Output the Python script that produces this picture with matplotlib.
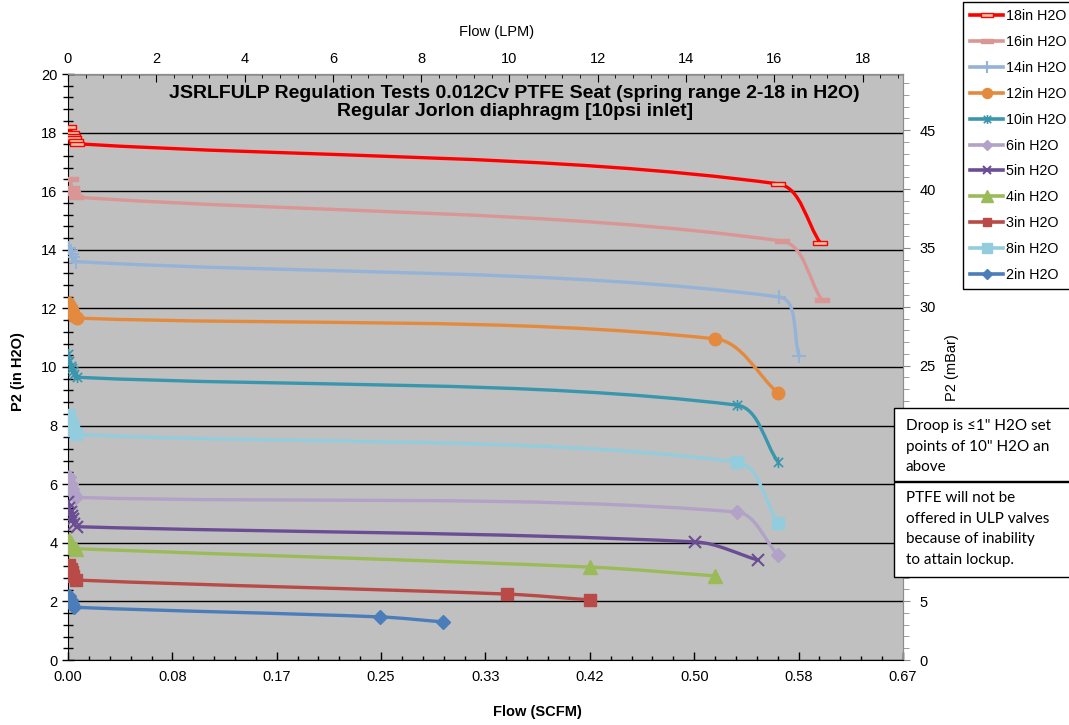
import numpy as np
import matplotlib
matplotlib.use('Agg')
import matplotlib.pyplot as plt
from matplotlib.path import Path
from matplotlib.patches import PathPatch, Rectangle
from matplotlib.lines import Line2D
from matplotlib.ticker import MultipleLocator, AutoMinorLocator, FixedLocator

plt.rcParams['font.family'] = ['Liberation Sans', 'DejaVu Sans']

# flow in SCFM, P2 in inches of water
x18 = [0.001, 0.003, 0.004, 0.005, 0.006, 0.007, 0.568, 0.602]
y18 = [18.2, 18.0, 17.9, 17.8, 17.7, 17.62, 16.25, 14.23]
x16 = [0.002, 0.003, 0.004, 0.006, 0.571, 0.603]
y16 = [16.4, 16.1, 15.95, 15.8, 14.30, 12.29]
x14 = [0.001, 0.002, 0.003, 0.004, 0.006, 0.569, 0.585]
y14 = [14.05, 13.95, 13.85, 13.75, 13.6, 12.39, 10.38]
x12 = [0.0, 0.001, 0.002, 0.003, 0.004, 0.005, 0.007, 0.518, 0.568]
y12 = [12.2, 12.1, 12.0, 11.95, 11.85, 11.75, 11.67, 10.96, 9.11]
x10 = [0.0, 0.001, 0.002, 0.003, 0.004, 0.005, 0.007, 0.535, 0.568]
y10 = [10.45, 10.2, 10.05, 9.95, 9.85, 9.75, 9.65, 8.70, 6.76]
x6 = [0.001, 0.002, 0.003, 0.004, 0.006, 0.535, 0.568]
y6 = [6.25, 6.0, 5.85, 5.7, 5.55, 5.05, 3.58]
x5 = [0.0, 0.001, 0.002, 0.003, 0.004, 0.005, 0.007, 0.502, 0.552]
y5 = [5.4, 5.2, 5.05, 4.9, 4.8, 4.65, 4.55, 4.03, 3.41]
x4 = [0.001, 0.002, 0.004, 0.006, 0.418, 0.518]
y4 = [4.1, 4.0, 3.85, 3.8, 3.17, 2.87]
x3 = [0.001, 0.002, 0.003, 0.004, 0.006, 0.351, 0.418]
y3 = [3.25, 3.1, 3.0, 2.85, 2.73, 2.25, 2.05]
x8 = [0.001, 0.002, 0.003, 0.004, 0.006, 0.535, 0.568]
y8 = [8.35, 8.1, 7.95, 7.85, 7.7, 6.76, 4.68]
x2 = [0.001, 0.002, 0.003, 0.005, 0.250, 0.300]
y2 = [2.2, 2.05, 1.9, 1.8, 1.47, 1.30]

labels = ['18in H2O', '16in H2O', '14in H2O', '12in H2O', '10in H2O', '6in H2O',
          '5in H2O', '4in H2O', '3in H2O', '8in H2O', '2in H2O']

xtick_labels = ['0.00', '0.08', '0.17', '0.25', '0.33', '0.42', '0.50', '0.58', '0.67']
XMAX = 0.668
LPM_PER_SCFM = 28.317
MBAR_PER_INH2O = 2.4884

# marker shapes
dash = Path([(-1, -0.3), (1, -0.3), (1, 0.3), (-1, 0.3), (-1, -0.3)],
            [Path.MOVETO, Path.LINETO, Path.LINETO, Path.LINETO, Path.CLOSEPOLY])
star = Path([(-1, -1), (1, 1), (-1, 1), (1, -1), (0, -1.2), (0, 1.2)],
            [Path.MOVETO, Path.LINETO, Path.MOVETO, Path.LINETO, Path.MOVETO, Path.LINETO])

series = [
    (x18, y18, '#FF0000', dict(marker=dash, ms=10, mfc='#E9C7A6', mec='#FF0000', mew=1.0)),
    (x16, y16, '#D99694', dict(marker=dash, ms=10, mfc='#D99694', mec='#D99694', mew=1.0)),
    (x14, y14, '#95B3D7', dict(marker='+', ms=10, mec='#95B3D7', mew=1.5)),
    (x12, y12, '#E48A3E', dict(marker='o', ms=9, mfc='#E48A3E', mec='#E48A3E')),
    (x10, y10, '#3A96AC', dict(marker=star, ms=8, mfc='none', mec='#3A96AC', mew=1.2)),
    (x6, y6, '#B3A2C7', dict(marker='D', ms=7, mfc='#B3A2C7', mec='#B3A2C7')),
    (x5, y5, '#6B4D93', dict(marker='x', ms=8, mec='#6B4D93', mew=1.5)),
    (x4, y4, '#9BBB59', dict(marker='^', ms=10, mfc='#9BBB59', mec='#9BBB59')),
    (x3, y3, '#B84A47', dict(marker='s', ms=8, mfc='#B84A47', mec='#B84A47')),
    (x8, y8, '#93CDDD', dict(marker='s', ms=9, mfc='#93CDDD', mec='#93CDDD')),
    (x2, y2, '#4A7DBA', dict(marker='D', ms=7, mfc='#4A7DBA', mec='#4A7DBA')),
]


def smooth_path(ax, xs, ys):
    # excel-like smoothed line: cubic bezier between the data points, built in pixel space
    pts = ax.transData.transform(np.column_stack([xs, ys]))
    n = len(pts)
    verts = [pts[0]]
    codes = [Path.MOVETO]
    for i in range(n - 1):
        p0 = pts[i - 1] if i > 0 else pts[i]
        p1 = pts[i]
        p2 = pts[i + 1]
        p3 = pts[i + 2] if i + 2 < n else pts[i + 1]
        d1 = np.hypot(*(p1 - p0))
        d2 = np.hypot(*(p2 - p1))
        d3 = np.hypot(*(p3 - p2))
        c1 = p1 + (p2 - p0) * (d2 / (d1 + d2)) / 3
        c2 = p2 - (p3 - p1) * (d2 / (d2 + d3)) / 3
        verts += [c1, c2, p2]
        codes += [Path.CURVE4] * 3
    verts = ax.transData.inverted().transform(np.array(verts))
    return Path(verts, codes)


fig = plt.figure(figsize=(10.69, 7.25), dpi=100)
ax = fig.add_axes([68 / 1069, 1 - 660 / 725, (903 - 68) / 1069, (660 - 74) / 725])
ax.set_facecolor('#C0C0C0')
ax.set_xlim(0, XMAX)
ax.set_ylim(0, 20)

ax.xaxis.set_major_locator(FixedLocator(np.linspace(0, XMAX, 9)))
ax.set_xticklabels(xtick_labels)
ax.xaxis.set_minor_locator(AutoMinorLocator(5))
ax.yaxis.set_major_locator(MultipleLocator(2))
ax.yaxis.set_minor_locator(AutoMinorLocator(5))
ax.tick_params(axis='x', which='major', direction='in', length=6, width=1, labelsize=10.5, pad=7)
ax.tick_params(axis='x', which='minor', direction='in', length=3, width=1)
ax.tick_params(axis='y', which='major', direction='inout', length=8, width=1, labelsize=10.5)
ax.tick_params(axis='y', which='minor', direction='inout', length=7, width=1)
ax.grid(axis='y', which='major', color='black', lw=1)
ax.set_axisbelow(True)
for s in ['top', 'right']:
    ax.spines[s].set_color('#8C8C8C')
ax.spines['left'].set_color('black')
ax.spines['bottom'].set_color('black')

for xs, ys, col, mk in series:
    ax.add_patch(PathPatch(smooth_path(ax, xs, ys), facecolor='none', edgecolor=col,
                           lw=2.4, capstyle='round', joinstyle='round', zorder=3))
    ax.plot(xs, ys, linestyle='none', zorder=4, **mk)

# top axis in LPM
top = ax.secondary_xaxis('top', functions=(lambda v: v * LPM_PER_SCFM, lambda v: v / LPM_PER_SCFM))
top.xaxis.set_major_locator(MultipleLocator(2))
top.xaxis.set_minor_locator(AutoMinorLocator(5))
top.tick_params(which='major', direction='in', length=6, labelsize=10.5, pad=6)
top.tick_params(which='minor', direction='in', length=3)
top.spines['top'].set_color('#8C8C8C')

# right axis in mBar
right = ax.secondary_yaxis('right', functions=(lambda v: v * MBAR_PER_INH2O, lambda v: v / MBAR_PER_INH2O))
right.yaxis.set_major_locator(MultipleLocator(5))
right.yaxis.set_minor_locator(AutoMinorLocator(5))
right.tick_params(which='major', direction='out', length=5, labelsize=10.5, pad=7, color='#8C8C8C')
right.tick_params(which='minor', direction='out', length=4, color='#8C8C8C')
right.spines['right'].set_color('#8C8C8C')

ax.text(0.535, 0.981, 'JSRLFULP Regulation Tests 0.012Cv PTFE Seat (spring range 2-18 in H2O)\n'
        'Regular Jorlon diaphragm [10psi inlet]', transform=ax.transAxes,
        ha='center', va='top', fontsize=14, fontweight='bold', linespacing=1.1)

fig.text(18 / 1069, 1 - 372 / 725, 'P2 (in H2O)', rotation=90, ha='center', va='center',
         fontsize=10.5, fontweight='bold')
fig.text(537 / 1069, 1 - 712 / 725, 'Flow (SCFM)', ha='center', va='center',
         fontsize=10.5, fontweight='bold')
fig.text(497 / 1069, 1 - 32 / 725, 'Flow (LPM)', ha='center', va='center', fontsize=10.5)
fig.text(952 / 1069, 1 - 368 / 725, 'P2 (mBar)', rotation=90, ha='center', va='center', fontsize=10.5)

handles = [Line2D([], [], color=col, lw=2.6, **mk) for xs, ys, col, mk in series]
leg = fig.legend(handles, labels, loc='upper left', bbox_to_anchor=(963 / 1069, 1 - 2 / 725),
                 fontsize=10.3, frameon=True, fancybox=False, edgecolor='black', framealpha=1,
                 handlelength=2.3, handletextpad=0.2, labelspacing=0.83, borderpad=0.5,
                 borderaxespad=0, markerscale=0.8)
leg.get_frame().set_linewidth(1)

# note boxes
fig.patches.append(Rectangle((894 / 1069, 1 - 481 / 725), 0.2, 73 / 725, transform=fig.transFigure,
                             facecolor='white', edgecolor='black', lw=1, zorder=5))
fig.patches.append(Rectangle((894 / 1069, 1 - 577 / 725), 0.2, 95 / 725, transform=fig.transFigure,
                             facecolor='white', edgecolor='black', lw=1, zorder=5))
fig.text(906 / 1069, 1 - 419 / 725, 'Droop is \u22641" H2O set\npoints of 10" H2O an\nabove',
         ha='left', va='top', fontsize=11, linespacing=1.6, family=['Lato', 'DejaVu Sans'], zorder=6)
fig.text(906 / 1069, 1 - 491 / 725, 'PTFE will not be\noffered in ULP valves\nbecause of inability\nto attain lockup.',
         ha='left', va='top', fontsize=11, linespacing=1.6, family=['Lato', 'DejaVu Sans'], zorder=6)

fig.savefig('out.png', dpi=100)
